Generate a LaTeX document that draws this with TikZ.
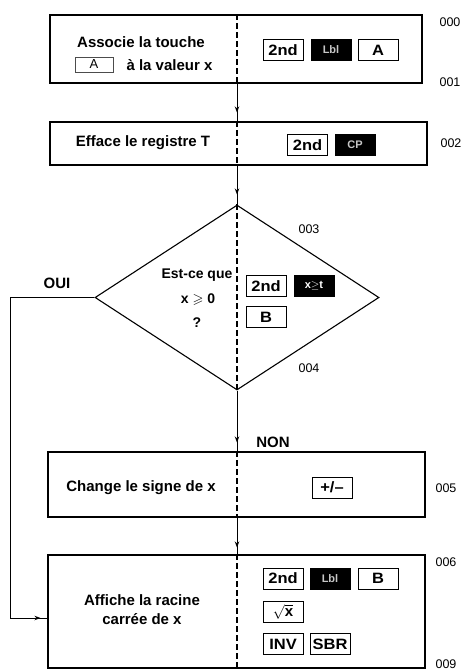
\documentclass[tikz,border=0pt]{standalone}
\usepackage{fontspec}
\setmainfont{Liberation Sans}
\newfontfamily\keyfont[FakeStretch=1.1]{Liberation Sans}
\usepackage{amssymb}
\usetikzlibrary{shapes.geometric,arrows.meta,decorations.markings}
\begin{document}
\begin{tikzpicture}[x=1pt,y=-1pt,
 box/.style={draw,line width=1.1pt,rectangle,inner sep=0pt},
 key/.style={draw,line width=1pt,minimum width=40pt,minimum height=21pt,inner sep=0pt,font=\keyfont\bfseries\fontsize{15}{16}\selectfont},
 bkey/.style={key,fill=black,text=gray!45,font=\bfseries\fontsize{11}{12}\selectfont},
 txt/.style={font=\bfseries\fontsize{15}{19}\selectfont,align=center},
 dtxt/.style={font=\bfseries\fontsize{14}{16}\selectfont,align=center},
 num/.style={font=\fontsize{12.5}{14}\selectfont},
 conn/.style={line width=1pt},
 spdash/.style={line width=1.2pt,dash pattern=on 6pt off 3pt},
 arrowat/.style={postaction={decorate},decoration={markings,mark=at position #1 with {\arrow{Stealth[length=6pt,width=4.5pt]}}}}
]
\useasboundingbox (0,0) rectangle (465,671);
\coordinate (sp) at (237,0);

% boxes
\node[box,minimum width=372pt,minimum height=68pt] (b1) at (236,49) {};
\node[box,minimum width=377pt,minimum height=43pt] (b2) at (238.5,143.5) {};
\node[draw,diamond,line width=1.1pt,minimum width=284pt,minimum height=185pt,inner sep=0pt] (d) at (237,297.5) {};
\node[box,minimum width=377pt,minimum height=65pt] (b3) at (236.5,484.5) {};
\node[box,minimum width=377pt,minimum height=113pt] (b4) at (236.5,611.5) {};

% dashed spine inside shapes
\draw[spdash] (b1.north -| sp) -- (b1.south -| sp);
\draw[spdash] (b2.north -| sp) -- (b2.south -| sp);
\draw[spdash] (d.north -| sp) -- (d.south -| sp);
\draw[spdash] (b3.north -| sp) -- (b3.south -| sp);
\draw[spdash] (b4.north -| sp) -- (b4.south -| sp);

% connectors
\draw[conn,arrowat=-9pt] (b1.south -| sp) -- (b2.north -| sp);
\draw[conn,arrowat=-10pt] (b2.south -| sp) -- (d.north -| sp);
\draw[conn,arrowat=-9pt] (d.south -| sp) -- (b3.north -| sp);
\draw[conn,arrowat=-7pt] (b3.south -| sp) -- (b4.north -| sp);
\coordinate (oui) at (10,618);
\draw[conn,arrowat=-7pt] (d.west) -| (oui) -- (oui -| b4.west);

% box 1
\node[txt] (t1) at (141,42) {Associe la touche};
\node[draw,line width=0.8pt,draw=black!70,minimum width=38pt,minimum height=15pt,inner sep=0pt,font=\fontsize{13}{14}\selectfont] (ka) at (94,64.5) {A};
\node[txt,anchor=west] (t1b) at (123,65) {à la valeur x};
\node[key] (k11) at (283,50) {2nd};
\node[bkey] (k12) at (331,50) {Lbl};
\node[key] (k13) at (378,50) {A};

% box 2
\node[txt] (t2) at (143,143) {Efface le registre T};
\node[key] (k21) at (307.5,145) {2nd};
\node[bkey] (k22) at (355,145) {CP};

% diamond
\node[dtxt] (t3a) at (197,275) {Est-ce que};
\node[dtxt] (t3b) at (198,300) {x $\geqslant$ 0};
\node[dtxt] (t3c) at (197,323) {?};
\node[key] (k31) at (266,286) {2nd};
\node[bkey,text=white] (k32) at (314,286) {x$\geq$t};
\node[key] (k33) at (266,317) {B};

% box 3
\node[txt] (t4) at (141,488) {Change le signe de x};
\node[key] (k41) at (332,487.5) {+/–};

% box 4
\node[txt] (t5) at (142,610) {Affiche la racine\\carrée de x};
\node[key] (k51) at (283,578.5) {2nd};
\node[bkey] (k52) at (330,578.5) {Lbl};
\node[key] (k53) at (378,578.5) {B};
\node[key] (k54) at (283,611.5) {$\sqrt{\mathbf{x}}$};
\node[key] (k55) at (283,644) {INV};
\node[key] (k56) at (330,644) {SBR};

% labels
\node[txt] (oui_t) at (57,283) {OUI};
\node[txt] (non_t) at (273,442) {NON};
\node[num] (n0) at (450,22) {000};
\node[num] (n1) at (450,82) {001};
\node[num] (n2) at (451,143) {002};
\node[num] (n3) at (309,229) {003};
\node[num] (n4) at (309,368) {004};
\node[num] (n5) at (446,488) {005};
\node[num] (n6) at (446,562) {006};
\node[num] (n9) at (446,664) {009};
\end{tikzpicture}
\end{document}
